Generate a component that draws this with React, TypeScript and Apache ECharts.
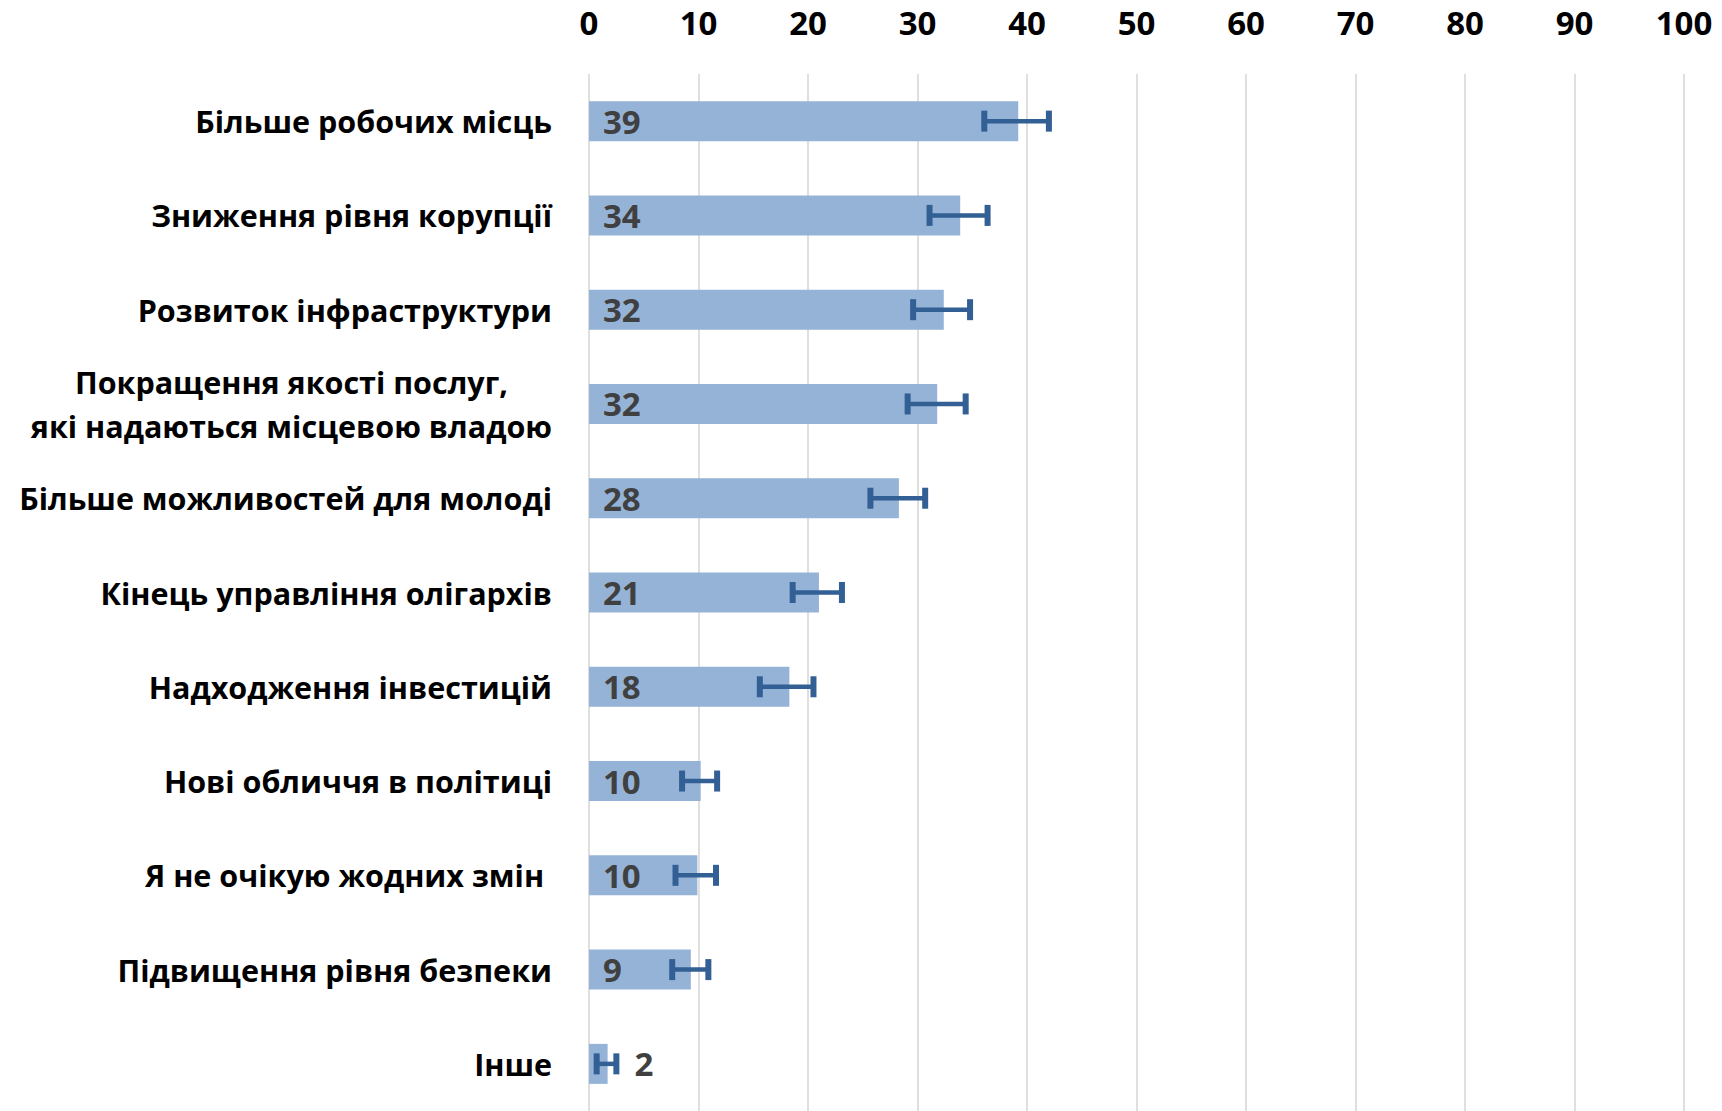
import React, { useEffect, useRef } from "react";
import * as echarts from "echarts";

const categories = [
  "Більше робочих місць",
  "Зниження рівня корупції",
  "Розвиток інфраструктури",
  "Покращення якості послуг,\nякі надаються місцевою владою",
  "Більше можливостей для молоді",
  "Кінець управління олігархів",
  "Надходження інвестицій",
  "Нові обличчя в політиці",
  "Я не очікую жодних змін ",
  "Підвищення рівня безпеки",
  "Інше",
];
const values = [39.2, 33.9, 32.4, 31.8, 28.3, 21.0, 18.3, 10.2, 9.9, 9.3, 1.7];
const errLow = [36.1, 31.1, 29.6, 29.1, 25.7, 18.6, 15.6, 8.5, 7.9, 7.6, 0.7];
const errHigh = [42.0, 36.4, 34.8, 34.4, 30.7, 23.1, 20.5, 11.7, 11.6, 10.9, 2.5];
const xTicks = { min: 0, max: 100, interval: 10 };

const FONT = "'Open Sans', 'Noto Sans', sans-serif";

export default function App() {
  const ref = useRef<HTMLDivElement>(null);
  useEffect(() => {
    if (!ref.current) return;
    const chart = echarts.init(ref.current, null, { renderer: "svg" });
    const barData = values.map((v, i) => {
      if (i === values.length - 1) {
        return {
          value: v,
          label: { position: "right", distance: 27 },
        };
      }
      return { value: v };
    });
    const errData = categories.map((_, i) => [i, errLow[i], errHigh[i]]);
    chart.setOption({
      animation: false,
      backgroundColor: "#ffffff",
      grid: { left: 589, right: 38, top: 74, bottom: -3, containLabel: false },
      xAxis: {
        type: "value",
        position: "top",
        min: xTicks.min,
        max: xTicks.max,
        interval: xTicks.interval,
        axisLine: { show: false },
        axisTick: { show: false },
        axisLabel: {
          margin: 35,
          fontSize: 33,
          fontWeight: "bold",
          color: "#000000",
          fontFamily: FONT,
        },
        splitLine: { show: true, lineStyle: { color: "#d4d4d4", width: 1.5 } },
      },
      yAxis: {
        type: "category",
        inverse: true,
        data: categories,
        axisLine: { show: false },
        axisTick: { show: false },
        axisLabel: {
          margin: 37,
          fontSize: 30.5,
          fontWeight: "bold",
          color: "#000000",
          fontFamily: FONT,
          align: "right",
          formatter: (v: string) =>
            v.indexOf("\n") >= 0
              ? v
                  .split("\n")
                  .map((l) => "{c|" + l + "}")
                  .join("\n")
              : v,
          rich: {
            c: {
              align: "center",
              fontSize: 30.5,
              fontWeight: "bold",
              color: "#000000",
              fontFamily: FONT,
              lineHeight: 44,
            },
          },
        },
      },
      series: [
        {
          type: "bar",
          data: barData,
          barWidth: 40,
          itemStyle: { color: "#95b3d7" },
          label: {
            show: true,
            position: "insideLeft",
            distance: 14,
            fontSize: 33,
            fontWeight: "bold",
            color: "#404040",
            fontFamily: FONT,
            formatter: (p: any) => String(Math.round(p.value)),
          },
          z: 2,
        },
        {
          type: "custom",
          data: errData,
          encode: { y: 0, x: [1, 2] },
          z: 5,
          renderItem: (params: any, api: any) => {
            const idx = api.value(0);
            const lo = api.coord([api.value(1), idx]);
            const hi = api.coord([api.value(2), idx]);
            const y = lo[1];
            const capH = 21;
            const capW = 6;
            const color = "#325f94";
            return {
              type: "group",
              children: [
                {
                  type: "line",
                  shape: { x1: lo[0], y1: y, x2: hi[0], y2: y },
                  style: { stroke: color, lineWidth: 4.5 },
                },
                {
                  type: "rect",
                  shape: { x: lo[0] - capW / 2, y: y - capH / 2, width: capW, height: capH },
                  style: { fill: color },
                },
                {
                  type: "rect",
                  shape: { x: hi[0] - capW / 2, y: y - capH / 2, width: capW, height: capH },
                  style: { fill: color },
                },
              ],
            };
          },
        },
      ],
    });
    return () => chart.dispose();
  }, []);
  return (
    <div
      ref={ref}
      style={{ position: "fixed", left: 0, top: 0, width: 1722, height: 1111, background: "#fff" }}
    />
  );
}
